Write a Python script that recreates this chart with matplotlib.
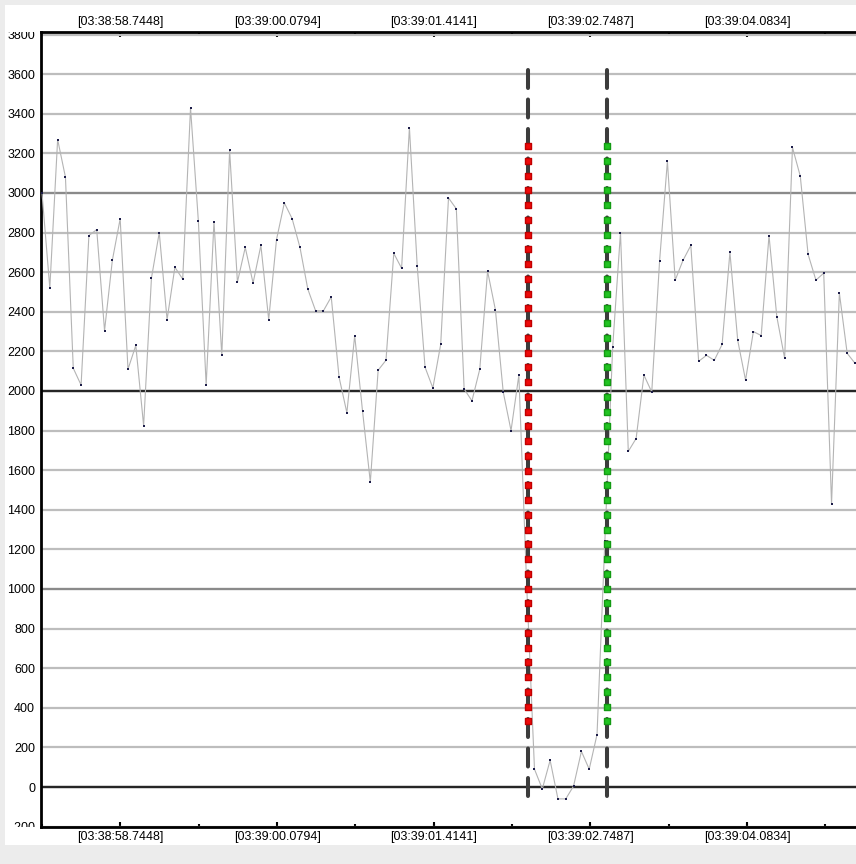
import matplotlib
matplotlib.use("Agg")
import matplotlib.pyplot as plt
from matplotlib.markers import MarkerStyle
from matplotlib.patches import Rectangle
from matplotlib.ticker import MultipleLocator, AutoMinorLocator, FixedLocator, FixedFormatter
from matplotlib.transforms import Bbox, TransformedBbox

plt.rcParams['font.family'] = ['Liberation Sans', 'DejaVu Sans']
plt.rcParams['lines.scale_dashes'] = False

# samples (seconds after 03:38:00)
t_start = 58.0758
sample_period = 0.06662
values = [
    3000, 2520, 3270, 3080, 2115, 2030, 2785, 2815, 2305, 2660,
    2870, 2110, 2230, 1825, 2570, 2800, 2360, 2625, 2565, 3430,
    2860, 2030, 2855, 2180, 3215, 2550, 2725, 2545, 2735, 2360,
    2765, 2950, 2870, 2725, 2515, 2405, 2405, 2475, 2070, 1890,
    2280, 1900, 1540, 2105, 2155, 2695, 2620, 3330, 2630, 2120,
    2015, 2235, 2975, 2920, 2010, 1950, 2110, 2605, 2410, 1995,
    1800, 2080, 1020, 90, -10, 135, -60, -60, 5, 180,
    90, 265, 1240, 2220, 2800, 1695, 1760, 2080, 1995, 2655,
    3160, 2560, 2660, 2735, 2150, 2180, 2155, 2235, 2700, 2255,
    2055, 2300, 2280, 2785, 2375, 2165, 3230, 3085, 2690, 2560,
    2595, 1430, 2495, 2190, 2140,
]
times = [t_start + i * sample_period for i in range(len(values))]

tick_times = [58.7448, 60.0794, 61.4141, 62.7487, 64.0834]
tick_labels = ["[03:38:58.7448]", "[03:39:00.0794]", "[03:39:01.4141]",
               "[03:39:02.7487]", "[03:39:04.0834]"]

# two cursors (red = start, green = end)
cursor_times = [62.2176, 62.8909]
cursor_colors = ['#ee0a0a', '#22c422']
cursor_edges = ['#c00000', '#139a13']
cursor_span = (3621, -55)
cursor_mark_top = 3237
cursor_mark_step = 74.5
cursor_mark_count = 40

dark_grid = [0, 2000]
mid_grid = [1000, 3000]

W, H = 856, 864
fig = plt.figure(figsize=(W / 100, H / 100), dpi=100, facecolor='#ececec')
fig.patches.append(Rectangle((5 / W, 19 / H), 1, (H - 24) / H, transform=fig.transFigure,
                             facecolor='white', edgecolor='none', zorder=-10))

ax_left, ax_bottom = 41 / W, (H - 827) / H
ax_w, ax_h = (W - 41) / W, (827 - 32) / H
ax = fig.add_axes([ax_left, ax_bottom, ax_w, ax_h])
ax.set_facecolor('white')

ax.set_xlim(58.0673, 65.0128)
ax.set_ylim(-202, 3813)

# grid lines
ax.yaxis.set_major_locator(MultipleLocator(200))
ax.grid(axis='y', color='#bdbdbd', lw=1.6, zorder=1)
for v in mid_grid:
    ax.axhline(v, color='#8a8a8a', lw=1.6, zorder=2)
for v in dark_grid:
    ax.axhline(v, color='#262626', lw=1.7, zorder=2.1)

# data
ax.plot(times, values, color='#b4b4b4', lw=0.8, zorder=3,
        marker='s', ms=1.6, mfc='#1c1c48', mec='#1c1c48', mew=0)

# cursors
mark_vals = [cursor_mark_top - k * cursor_mark_step for k in range(cursor_mark_count)]
rounded_sq = MarkerStyle('s', joinstyle='round')
for ct, cc, ce in zip(cursor_times, cursor_colors, cursor_edges):
    ax.plot([ct, ct], list(cursor_span), color='#3c3c3c', lw=2.9,
            dashes=(12.96, 8.28), dash_capstyle='round', zorder=5)
    ax.plot([ct] * len(mark_vals), mark_vals, ls='none', marker=rounded_sq,
            ms=5.0, mfc=cc, mec=ce, mew=1.0, zorder=6)

# axes styling
for side in ['left', 'bottom', 'top']:
    ax.spines[side].set_linewidth(2.0)
    ax.spines[side].set_color('black')
ax.spines['right'].set_visible(False)

ax.xaxis.set_major_locator(FixedLocator(tick_times))
ax.xaxis.set_major_formatter(FixedFormatter(tick_labels))
ax.xaxis.set_minor_locator(AutoMinorLocator(2))
ax.tick_params(axis='x', which='both', direction='in', top=True, labeltop=True,
               labelsize=9, pad=3, width=1.5, color='black')
ax.tick_params(axis='x', which='major', length=3.5)
ax.tick_params(axis='x', which='minor', length=2.2)
ax.tick_params(axis='y', length=0, labelsize=9, pad=4.3)
ax.yaxis.set_major_formatter(plt.FuncFormatter(lambda v, p: f"{int(v)}"))

fig.canvas.draw()
clip = TransformedBbox(Bbox([[0, ax_bottom], [ax_left, ax_bottom + ax_h]]), fig.transFigure)
for tick in ax.yaxis.get_major_ticks():
    tick.label1.set_clip_box(clip)
    tick.label1.set_clip_on(True)

fig.savefig('out.png', dpi=100, facecolor=fig.get_facecolor())
